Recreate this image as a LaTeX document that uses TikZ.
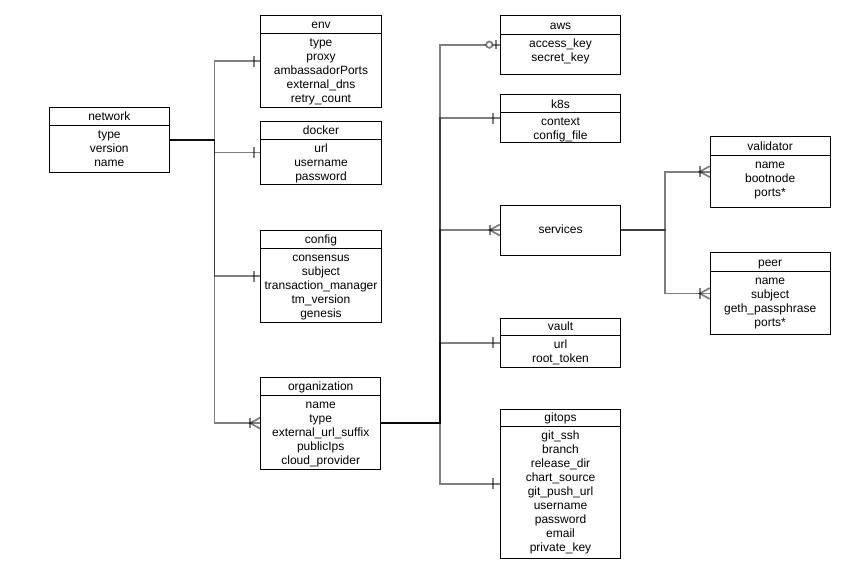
\documentclass[tikz,border=0pt]{standalone}
\usepackage{fontspec}
\setmainfont{Liberation Sans}
\usetikzlibrary{fit,calc}
\tikzset{
  tbl/.style={draw=black, line width=0.75pt, fill=white, inner sep=0pt, rectangle},
  boxline/.style={draw=black, line width=0.75pt},
  ttl/.style={inner sep=0pt, font=\fontsize{9pt}{10.5pt}\selectfont},
  rowtxt/.style={inner sep=0pt, align=center, font=\fontsize{9pt}{10.5pt}\selectfont},
  edge/.style={draw=black, draw opacity=0.5, line width=1.3pt},
}
\newcommand\erbox[8]{%
  \node[tbl, fit={(#2,#3)(#4,#5)}] (#1) {};
  \draw[boxline] (#1.west |- 0,#6) -- (#1.east |- 0,#6);
  \node[ttl, anchor=base] (#1-t) at (#1.north |- 0,#6-4.5) {#7};
  \node[rowtxt, anchor=north] (#1-r) at (#1.north |- 0,#6+3.2) {\strut #8};
}
\newcommand\onemark[1]{%
  \draw[edge] ($(#1.west)+(-6.5,-5.5)$) -- ($(#1.west)+(-6.5,5.5)$);
}
\newcommand\manymark[1]{%
  \draw[edge] ($(#1.west)+(-10,-5.2)$) -- ($(#1.west)+(-10,5.2)$);
  \draw[edge] ($(#1.west)+(0,-5.5)$) -- ($(#1.west)+(-10,0)$) -- ($(#1.west)+(0,5.5)$);
}
\newcommand\zeromark[1]{%
  \draw[edge] ($(#1.west)+(-4,-4.5)$) -- ($(#1.west)+(-4,4.5)$);
  \fill[white] ($(#1.west)+(-10.5,0)$) circle[radius=2.4pt];
  \draw[edge] ($(#1.west)+(-10.5,0)$) circle[radius=2.4pt];
}
\begin{document}
\begin{tikzpicture}[x=0.75pt,y=-0.75pt]
\useasboundingbox (0,0) rectangle (852,579);

\erbox{network}{49.3}{107.3}{169.3}{172}{125}{network}{type\\version\\name}
\erbox{env}{260.7}{15}{381.3}{107.7}{33.3}{env}{type\\proxy\\ambassadorPorts\\external\_dns\\retry\_count}
\erbox{docker}{260.7}{121}{381.3}{184}{139.3}{docker}{url\\username\\password}
\erbox{config}{260.7}{230.7}{381.3}{322}{248.3}{config}{consensus\\subject\\transaction\_manager\\tm\_version\\genesis}
\erbox{organization}{260.7}{377.3}{380.7}{469}{395}{organization}{name\\type\\external\_url\_suffix\\publicIps\\cloud\_provider}
\erbox{aws}{500.3}{15}{620.7}{74.3}{34}{aws}{access\_key\\secret\_key}
\erbox{k8s}{500.3}{94.3}{620.7}{142}{112.7}{k8s}{context\\config\_file}
\node[tbl, fit={(500.3,205)(620.7,255)}] (services) {};
\node[ttl, anchor=base] (services-t) at (services.center |- 0,233.3) {services};
\erbox{validator}{710.3}{136}{830}{207.3}{155}{validator}{name\\bootnode\\ports*}
\erbox{peer}{710.3}{252.7}{830}{334.3}{271}{peer}{name\\subject\\geth\_passphrase\\ports*}
\erbox{vault}{500.3}{318}{620.7}{367.7}{335}{vault}{url\\root\_token}
\erbox{gitops}{500.3}{409}{620.7}{558.3}{426}{gitops}{git\_ssh\\branch\\release\_dir\\chart\_source\\git\_push\_url\\username\\password\\email\\private\_key}

\coordinate (jl) at (214.5,0);
\coordinate (jr) at (440,0);
\coordinate (js) at (665,0);

\foreach \t in {env,docker,config,organization}{
  \draw[edge] (network.east) -- (network.east -| jl) |- (\t.west);
}
\foreach \t in {aws,k8s,services,vault,gitops}{
  \draw[edge] (organization.east) -- (organization.east -| jr) |- (\t.west);
}
\foreach \t in {validator,peer}{
  \draw[edge] (services.east) -- (services.east -| js) |- (\t.west);
}

\onemark{env}
\onemark{docker}
\onemark{config}
\manymark{organization}
\zeromark{aws}
\onemark{k8s}
\manymark{services}
\onemark{vault}
\onemark{gitops}
\manymark{validator}
\manymark{peer}
\end{tikzpicture}
\end{document}
